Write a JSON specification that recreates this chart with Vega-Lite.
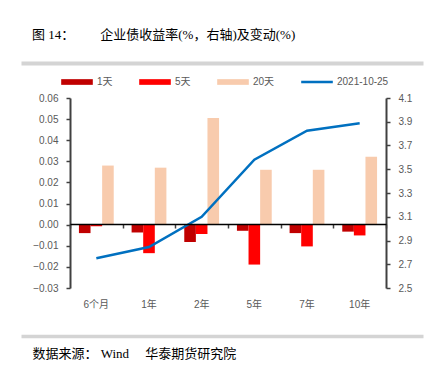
{
  "$schema": "https://vega.github.io/schema/vega-lite/v6.json",
  "autosize": "none",
  "width": 316,
  "height": 190,
  "padding": {"left": 70, "top": 98, "right": 52, "bottom": 81},
  "background": "white",
  "title": {
    "text": "图 14：\u3000\u3000\u00a0\u00a0企业债收益率(%，右轴)及变动(%)",
    "anchor": "start",
    "frame": "group",
    "dx": -38,
    "offset": 21,
    "font": "Liberation Serif, Noto Sans CJK SC",
    "fontSize": 13,
    "fontWeight": "normal",
    "color": "#000000"
  },
  "config": {
    "view": {"stroke": null},
    "axis": {
      "labelFont": "Liberation Sans, Noto Sans CJK SC",
      "labelFontSize": 10,
      "labelColor": "#595959",
      "grid": false
    }
  },
  "datasets": {
    "bars": [
      {"cat": "6个月", "series": "1天", "value": -0.004},
      {"cat": "6个月", "series": "5天", "value": -0.0007},
      {"cat": "6个月", "series": "20天", "value": 0.028},
      {"cat": "1年", "series": "1天", "value": -0.0037},
      {"cat": "1年", "series": "5天", "value": -0.0135},
      {"cat": "1年", "series": "20天", "value": 0.027},
      {"cat": "2年", "series": "1天", "value": -0.0082},
      {"cat": "2年", "series": "5天", "value": -0.0044},
      {"cat": "2年", "series": "20天", "value": 0.0505},
      {"cat": "5年", "series": "1天", "value": -0.0029},
      {"cat": "5年", "series": "5天", "value": -0.0189},
      {"cat": "5年", "series": "20天", "value": 0.026},
      {"cat": "7年", "series": "1天", "value": -0.004},
      {"cat": "7年", "series": "5天", "value": -0.0103},
      {"cat": "7年", "series": "20天", "value": 0.026},
      {"cat": "10年", "series": "1天", "value": -0.0033},
      {"cat": "10年", "series": "5天", "value": -0.0051},
      {"cat": "10年", "series": "20天", "value": 0.0322}
    ],
    "line": [
      {"cat": "6个月", "yield": 2.75},
      {"cat": "1年", "yield": 2.845},
      {"cat": "2年", "yield": 3.1},
      {"cat": "5年", "yield": 3.58},
      {"cat": "7年", "yield": 3.825},
      {"cat": "10年", "yield": 3.887}
    ]
  },
  "layer": [
    {
      "layer": [
        {
          "data": {"name": "bars"},
          "mark": {"type": "bar"},
          "encoding": {
            "x": {
              "field": "cat",
              "type": "nominal",
              "sort": ["6个月", "1年", "2年", "5年", "7年", "10年"],
              "scale": {"paddingInner": 0, "paddingOuter": 0},
              "axis": {
                "orient": "bottom",
                "offset": -64,
                "labels": false,
                "title": null,
                "domainColor": "#000000",
                "domainWidth": 1.5,
                "tickColor": "#404040",
                "tickWidth": 1.5,
                "tickSize": 4,
                "tickBand": "extent",
                "zindex": 1
              }
            },
            "xOffset": {
              "field": "series",
              "type": "nominal",
              "sort": ["1天", "5天", "20天"],
              "scale": {"paddingOuter": 0.77, "paddingInner": 0}
            },
            "y": {
              "field": "value",
              "type": "quantitative",
              "scale": {"domain": [-0.03, 0.06], "nice": false, "zero": false},
              "axis": {
                "orient": "left",
                "values": [-0.03, -0.02, -0.01, 0, 0.01, 0.02, 0.03, 0.04, 0.05, 0.06],
                "format": ".2f",
                "title": null,
                "domainColor": "#404040",
                "domainWidth": 2,
                "tickColor": "#404040",
                "tickWidth": 1.5,
                "tickSize": 4,
                "labelPadding": 8
              }
            },
            "color": {
              "field": "series",
              "type": "nominal",
              "scale": {
                "domain": ["1天", "5天", "20天", "2021-10-25"],
                "range": ["#C00000", "#FF0000", "#F8CBAD", "#0070C0"]
              },
              "legend": {
                "orient": "none",
                "legendX": -9,
                "legendY": -32,
                "direction": "horizontal",
                "title": null,
                "symbolType": "M-1,-0.18H1V0.18H-1Z",
                "symbolSize": 1000,
                "symbolStrokeWidth": 0,
                "labelFont": "Liberation Sans, Noto Sans CJK SC",
                "labelFontSize": 10,
                "labelColor": "#595959",
                "labelOffset": 4,
                "columnPadding": 26,
                "encode": {
                  "symbols": {
                    "update": {
                      "shape": {"signal": "datum.value === '2021-10-25' ? 'M-1,-0.08H1V0.08H-1Z' : 'M-1,-0.18H1V0.18H-1Z'"},
                      "fill": {"scale": "color", "field": "value"},
                      "opacity": {"value": 1}
                    }
                  }
                }
              }
            }
          }
        },
        {
          "data": {"name": "line"},
          "mark": {"type": "line", "strokeWidth": 2.5},
          "encoding": {
            "x": {
              "field": "cat",
              "type": "nominal",
              "sort": ["6个月", "1年", "2年", "5年", "7年", "10年"],
              "axis": {
                "orient": "bottom",
                "domain": false,
                "ticks": false,
                "labelAngle": 0,
                "labelPadding": 11,
                "title": "数据来源：\u00a0Wind\u3000\u00a0华泰期货研究院",
                "titleX": -38,
                "titleY": 65,
                "titleAlign": "left",
                "titleBaseline": "middle",
                "titleFont": "Liberation Serif, Noto Sans CJK SC",
                "titleFontSize": 13,
                "titleFontWeight": "normal",
                "titleColor": "#000000"
              }
            },
            "y": {
              "field": "yield",
              "type": "quantitative",
              "scale": {"domain": [2.5, 4.1], "nice": false, "zero": false},
              "axis": {
                "orient": "right",
                "values": [2.5, 2.7, 2.9, 3.1, 3.3, 3.5, 3.7, 3.9, 4.1],
                "format": ".1f",
                "title": null,
                "domainColor": "#404040",
                "domainWidth": 2,
                "tickColor": "#404040",
                "tickWidth": 1.5,
                "tickSize": 4,
                "labelPadding": 8
              }
            },
            "color": {"datum": "2021-10-25"}
          }
        }
      ],
      "resolve": {"scale": {"y": "independent"}, "axis": {"x": "independent"}}
    },
    {
      "data": {"name": "line"},
      "mark": {"type": "rule", "opacity": 0},
      "encoding": {
        "x": {
          "field": "cat",
          "type": "nominal",
          "scale": {"type": "point", "range": [-49, 353]},
          "axis": {"orient": "top", "offset": 35, "labels": false, "ticks": false, "title": null, "domainColor": "#D4D4D4", "domainWidth": 4}
        }
      }
    },
    {
      "data": {"name": "line"},
      "mark": {"type": "rule", "opacity": 0},
      "encoding": {
        "x": {
          "field": "cat",
          "type": "nominal",
          "scale": {"type": "point", "range": [-49, 353]},
          "axis": {"orient": "bottom", "offset": 48, "labels": false, "ticks": false, "title": null, "domainColor": "#D4D4D4", "domainWidth": 3.5}
        }
      }
    }
  ],
  "resolve": {"scale": {"x": "independent"}, "axis": {"x": "independent"}}
}
